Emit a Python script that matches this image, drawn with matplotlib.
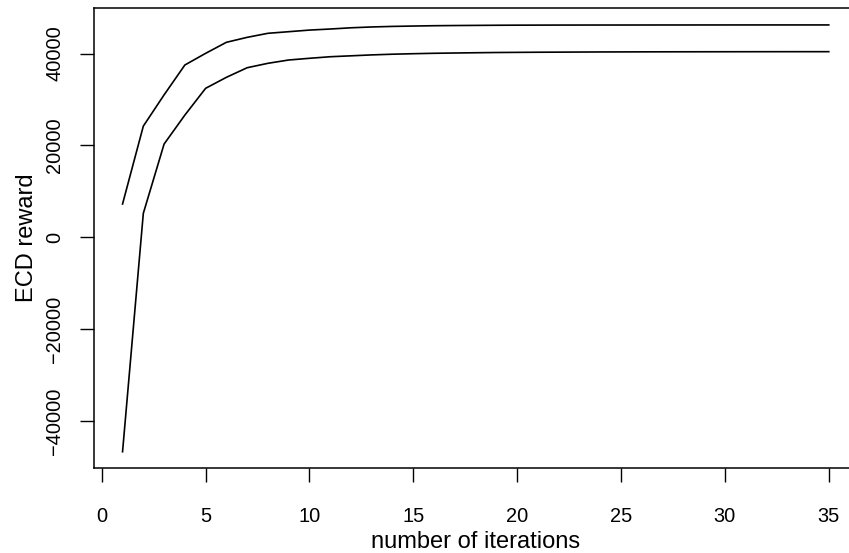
import matplotlib
matplotlib.use("Agg")
import matplotlib.pyplot as plt

iterations = list(range(1, 36))
upper = [7250, 24200, 31000, 37500, 40040, 42440, 43520, 44400, 44750, 45100,
         45330, 45600, 45780, 45900, 45980, 46050, 46090, 46120, 46150, 46170,
         46180, 46190, 46195, 46200, 46200, 46205, 46210, 46210, 46215, 46215,
         46218, 46220, 46220, 46220, 46220]
lower = [-46660, 5220, 20300, 26600, 32430, 34820, 36910, 37870, 38590, 38960,
         39300, 39500, 39700, 39850, 39960, 40050, 40110, 40170, 40220, 40250,
         40280, 40300, 40320, 40340, 40350, 40360, 40370, 40375, 40380, 40385,
         40390, 40395, 40398, 40400, 40400]
xticks = [0, 5, 10, 15, 20, 25, 30, 35]
yticks = [-40000, -20000, 0, 20000, 40000]

plt.rcParams['font.family'] = ['Liberation Sans', 'DejaVu Sans']

fig = plt.figure(figsize=(8.49, 5.53), dpi=100)
ax = fig.add_axes([94.3/849, 1-468/553, 762.7/849, (468-8.3)/553])
ax.plot(iterations, upper, color='black', lw=1.2)
ax.plot(iterations, lower, color='black', lw=1.2)
ax.set_xlim(-0.36, 36.36)
ax.set_ylim(-50200, 49840)
ax.set_xticks(xticks)
ax.set_yticks(yticks)
ax.set_xticklabels([str(v) for v in xticks])
ax.set_yticklabels([str(v).replace('-', '\u2212') for v in yticks], rotation=90, va='center')
ax.tick_params(axis='both', direction='out', length=10, width=1.0, labelsize=14.4, colors='black')
ax.tick_params(axis='x', pad=18)
ax.tick_params(axis='y', pad=11.5)
for s in ax.spines.values():
    s.set_linewidth(1.1)
    s.set_color('black')
ax.set_xlabel('number of iterations', fontsize=17, va='baseline')
ax.xaxis.set_label_coords((475.5 - 94.3) / 762.7, -(547.5 - 468) / 459.7)
ax.set_ylabel('ECD reward', fontsize=17, va='baseline', rotation_mode='anchor')
ax.yaxis.set_label_coords((33 - 94.3) / 762.7, 0.5 - (237.5 - 238.15) / 459.7)
fig.savefig('out.png', dpi=100)
